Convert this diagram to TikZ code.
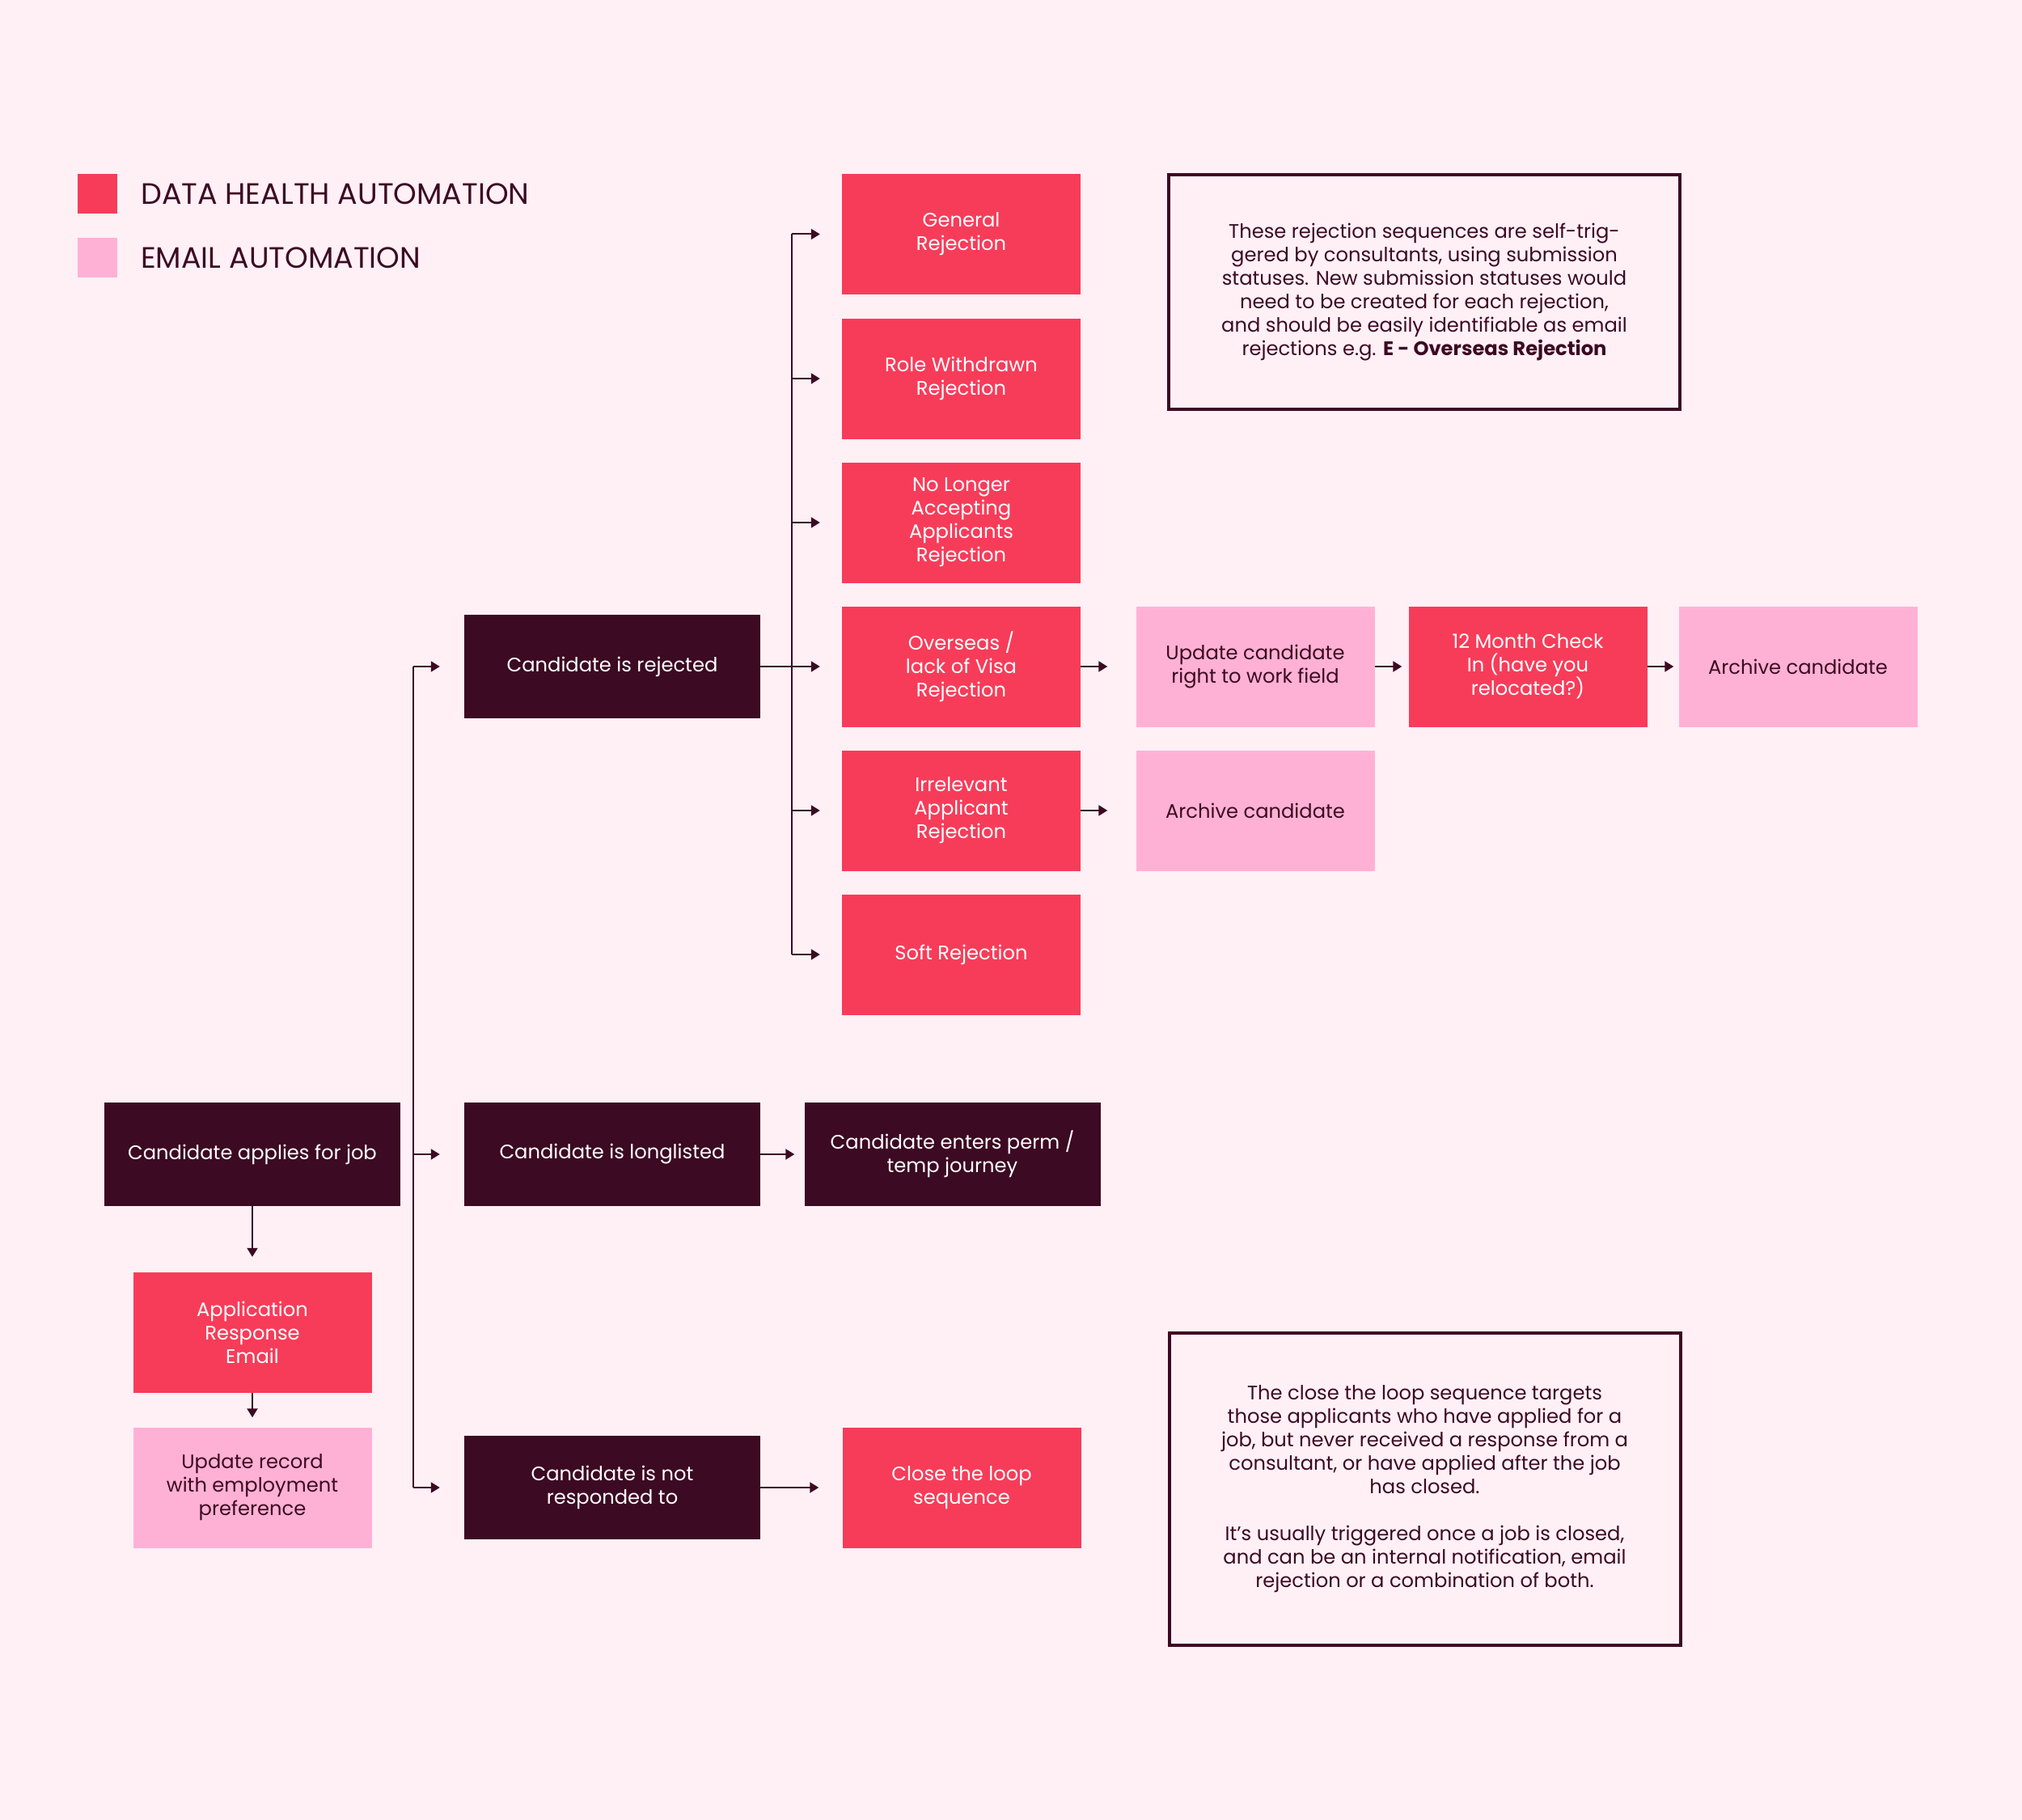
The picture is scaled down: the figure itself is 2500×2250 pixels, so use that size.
\documentclass[tikz,border=0pt]{standalone}
\usepackage{fontspec}
\setmainfont{Poppins}
\usetikzlibrary{arrows.meta}
\definecolor{plum}{HTML}{3C0A22}
\definecolor{dhred}{HTML}{F73C59}
\definecolor{empink}{HTML}{FFB1D5}
\definecolor{bgpink}{HTML}{FFF0F6}
\tikzset{
	box/.style={rectangle, inner sep=0pt, align=center, font=\fontsize{24.2}{29}\selectfont},
	dhbox/.style={box, fill=dhred, text=white, minimum width=295pt, minimum height=149pt},
	embox/.style={box, fill=empink, text=plum, minimum width=295pt, minimum height=149pt},
	stagebox/.style={box, fill=plum, text=white, minimum width=366pt, minimum height=128pt},
	notebox/.style={box, draw=plum, line width=4pt, text=plum, minimum width=632pt},
	keybox/.style={rectangle, inner sep=0pt, minimum size=49pt},
	keytext/.style={anchor=west, inner sep=0pt, text=plum, font=\fontsize{36.5}{42}\selectfont},
	flow/.style={plum, line width=2pt, -{Triangle[length=11pt,width=13pt]}},
	bus/.style={plum, line width=2pt}
}

\begin{document}
\begin{tikzpicture}[x=1pt,y=-1pt]
		\fill[bgpink] (0,0) rectangle (2500,2250);
		\node[keybox, fill=dhred] (keyDH) at (120.5,239.5) {};
		\node[keybox, fill=empink] (keyEM) at (120.5,318.5) {};
		\node[keytext] (keyDHtext) at (174,239.5) {DATA HEALTH AUTOMATION};
		\node[keytext] (keyEMtext) at (174,318.5) {EMAIL AUTOMATION};
		\node[dhbox] (gen) at (1188.5,289.5) {General\\Rejection};
		\node[dhbox] (role) at (1188.5,468) {Role Withdrawn\\Rejection};
		\node[dhbox] (nolonger) at (1188.5,646) {No Longer\\Accepting\\Applicants\\Rejection};
		\node[dhbox] (overseas) at (1188.5,824) {Overseas /\\lack of Visa\\Rejection};
		\node[dhbox] (irrel) at (1188.5,1002) {Irrelevant\\Applicant\\Rejection};
		\node[dhbox] (soft) at (1188.5,1180) {Soft Rejection};
		\node[stagebox] (rej) at (757,824) {Candidate is rejected};
		\node[embox] (upd) at (1552,824) {Update candidate\\right to work field};
		\node[dhbox] (check) at (1889,824) {12 Month Check\\In (have you\\relocated?)};
		\node[embox] (archA) at (2223,824) {Archive candidate};
		\node[embox] (archB) at (1552,1002) {Archive candidate};
		\node[stagebox] (applies) at (312,1427) {Candidate applies for job};
		\node[stagebox] (longl) at (757,1427) {Candidate is longlisted};
		\node[stagebox] (perm) at (1177.5,1427) {Candidate enters perm /\\temp journey};
		\node[dhbox] (appresp) at (312,1647.5) {Application\\Response\\Email};
		\node[embox] (updrec) at (312,1839) {Update record\\with employment\\preference};
		\node[stagebox] (notresp) at (757,1839) {Candidate is not\\responded to};
		\node[dhbox] (close) at (1189,1839) {Close the loop\\sequence};
		\node[notebox, minimum height=290pt] (noteRej) at (1761,361) {These rejection sequences are self-trig-\\gered by consultants, using submission\\statuses. New submission statuses would\\need to be created for each rejection,\\and should be easily identifiable as email\\rejections e.g. \textbf{E - Overseas Rejection}};
		\node[notebox, minimum height=386pt] (noteLoop) at (1761.5,1841) {The close the loop sequence targets\\those applicants who have applied for a\\job, but never received a response from a\\consultant, or have applied after the job\\has closed.\\[29pt]It’s usually triggered once a job is closed,\\and can be an internal notification, email\\rejection or a combination of both.};
		\coordinate (rbus) at (979,0);
		\coordinate (lbus) at (511,0);
		\draw[bus] (rbus |- gen) -- (rbus |- soft);
		\path[flow] (rej) edge[shorten >=27pt] (overseas);
		\foreach \n in {gen,role,nolonger,irrel,soft}
			\path[flow] (rbus |- \n) edge[shorten >=27pt] (\n);
		\path[flow] (overseas) edge[shorten >=35pt] (upd);
		\path[flow] (upd) edge[shorten >=8pt] (check);
		\path[flow] (check) edge[shorten >=6pt] (archA);
		\path[flow] (irrel) edge[shorten >=35pt] (archB);
		\draw[bus] (lbus |- rej) -- (lbus |- notresp);
		\foreach \n in {rej,longl,notresp}
			\path[flow] (lbus |- \n) edge[shorten >=30pt] (\n);
		\path[flow] (longl) edge[shorten >=12pt] (perm);
		\path[flow] (notresp) edge[shorten >=29pt] (close);
		\path[flow] (applies) edge[shorten >=19pt] (appresp);
		\path[flow] (appresp) edge[shorten >=12pt] (updrec);
	\end{tikzpicture}
\end{document}
